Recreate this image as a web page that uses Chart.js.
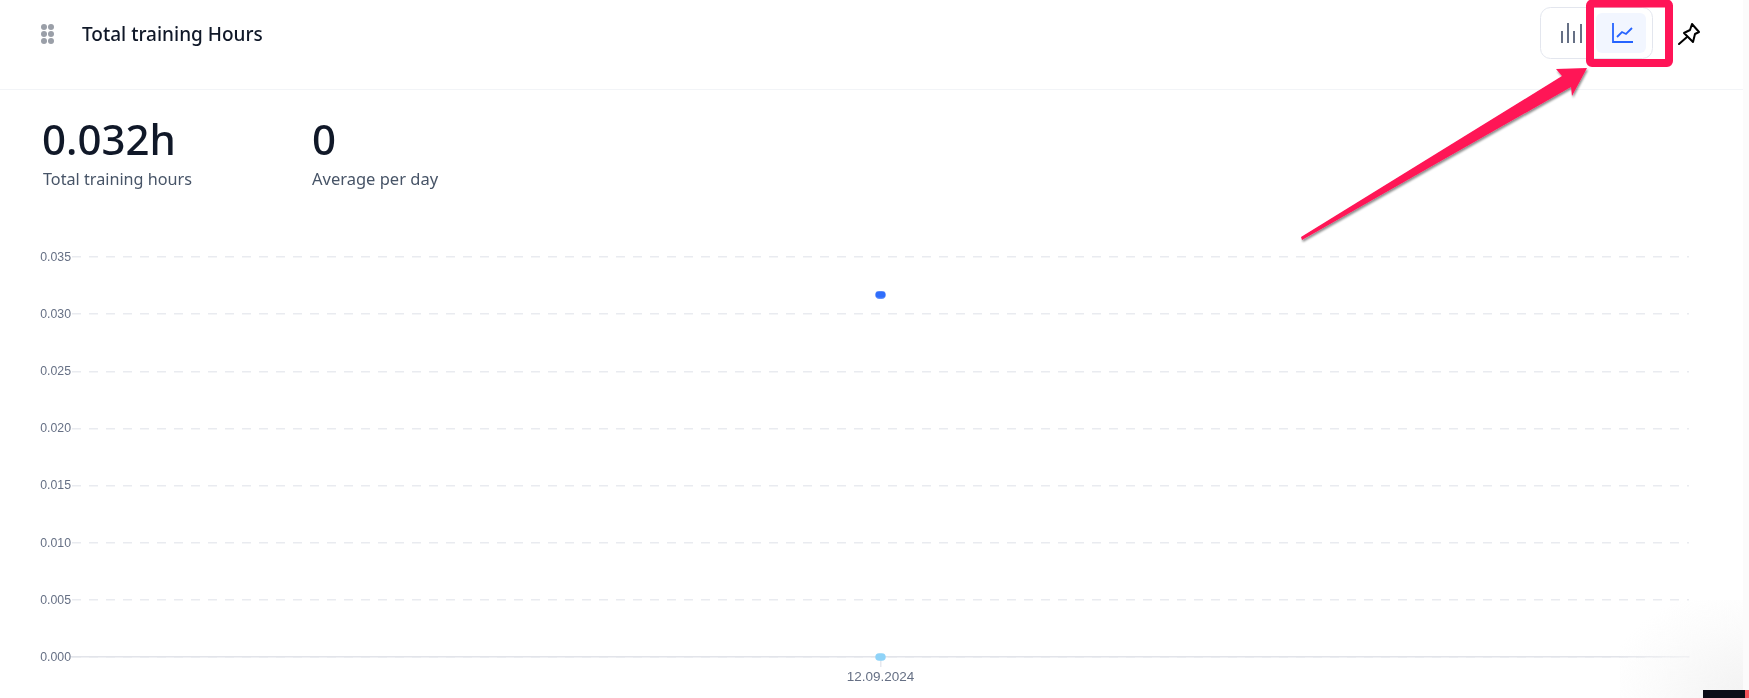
<!DOCTYPE html>
<html>
<head>
<meta charset="utf-8">
<title>Total training Hours</title>
<script src="https://cdn.jsdelivr.net/npm/chart.js@4"></script>
<style>
  html, body { margin: 0; padding: 0; background: #fff; }
  body { width: 1749px; height: 698px; position: relative; overflow: hidden; font-family: "Noto Sans", sans-serif; }
  #chart { position: absolute; left: 0; top: 0; }
  .text { position: absolute; white-space: nowrap; line-height: 1; }
  .title { left: 82px; top: 25px; font-size: 19px; font-weight: 500; color: #101828; }
  .kpi { top: 118px; font-size: 42px; font-weight: 500; color: #101828; }
  .kpi-label { top: 171px; font-size: 16.2px; color: #475467; }
  .divider { position: absolute; left: 0; top: 89px; width: 1743px; height: 1px; background: #f2f4f7; }
  .strip { position: absolute; left: 1743px; top: 0; width: 6px; height: 698px; background: #fbfbfb; }
  .fade { position: absolute; left: 1620px; top: 600px; width: 129px; height: 98px;
          background: radial-gradient(ellipse at 100% 100%, #f2f2f2 0%, rgba(248,248,248,0.6) 50%, rgba(255,255,255,0) 80%); }
  .corner { position: absolute; left: 1703px; top: 690px; width: 42px; height: 8px; background: #0b0d17; }
  .corner-red { position: absolute; left: 1745px; top: 690px; width: 4px; height: 8px; background: #f4525a; }
  svg.overlay { position: absolute; left: 0; top: 0; }
</style>
</head>
<body>
<canvas id="chart" width="1749" height="698"></canvas>

<div class="fade"></div>
<div class="strip"></div>
<div class="corner"></div>
<div class="corner-red"></div>
<div class="divider"></div>

<div class="text title">Total training Hours</div>
<div class="text kpi" style="left:42px">0.032h</div>
<div class="text kpi-label" style="left:43px">Total training hours</div>
<div class="text kpi" style="left:312px">0</div>
<div class="text kpi-label" style="left:312px;font-size:16.5px">Average per day</div>

<svg class="overlay" width="1749" height="698" xmlns="http://www.w3.org/2000/svg">
  <defs>
    <filter id="shadow" x="-10%" y="-10%" width="120%" height="120%">
      <feDropShadow dx="1" dy="2" stdDeviation="1.2" flood-color="#000" flood-opacity="0.45"/>
    </filter>
  </defs>
  <!-- drag handle -->
  <g fill="#9a9fa8">
    <circle cx="44" cy="27" r="3"/><circle cx="51" cy="27" r="3"/>
    <circle cx="44" cy="34" r="3"/><circle cx="51" cy="34" r="3"/>
    <circle cx="44" cy="41" r="3"/><circle cx="51" cy="41" r="3"/>
  </g>
  <!-- chart type toggle -->
  <rect x="1540.5" y="7.5" width="112" height="51" rx="10" fill="#fff" stroke="#e3e6ee"/>
  <rect x="1596" y="13" width="50" height="40" rx="6" fill="#f2f6ff"/>
  <g stroke="#667085" stroke-width="2">
    <line x1="1562" y1="31" x2="1562" y2="43"/>
    <line x1="1568" y1="23" x2="1568" y2="43"/>
    <line x1="1574" y1="31" x2="1574" y2="43"/>
    <line x1="1581" y1="24" x2="1581" y2="43"/>
  </g>
  <g fill="none" stroke="#2563ff" stroke-width="1.8">
    <path d="M1613 23 V42 H1633"/>
    <path d="M1617 37 L1622 32 L1626 34 L1632 28"/>
  </g>
  <!-- pin -->
  <g fill="none" stroke="#000" stroke-width="2" stroke-linejoin="round" stroke-linecap="round">
    <path d="M1692 24 L1699 32 L1695 34 L1693 42 L1684 33 L1690 30 Z"/>
    <path d="M1687 37 L1679 44"/>
  </g>
  <!-- annotation -->
  <g filter="url(#shadow)">
    <path fill="#ff1457" d="M1301 237 L1562 76 L1556 69 L1587 68 L1572 96 L1571 87 L1302 240 Z"/>
  </g>
  <rect x="1590" y="3.5" width="79" height="59.5" rx="2" fill="none" stroke="#ff1457" stroke-width="8" stroke-linejoin="round"/>
</svg>

<script>
const categories = ['12.09.2024'];
const totalHours = [0.0317];
const averageHours = [0];
const yTicks = { min: 0, max: 0.035, step: 0.005 };

// the source picture was stretched slightly, so its dots are wider than tall
function ovalPoint(color) {
    const c = document.createElement('canvas');
    c.width = 11;
    c.height = 8;
    const g = c.getContext('2d');
    g.fillStyle = color;
    g.beginPath();
    g.roundRect(0.3, 0.2, 10.4, 7.6, 3.8);
    g.fill();
    return c;
}

new Chart(document.getElementById('chart'), {
    type: 'line',
    data: {
        labels: categories,
        datasets: [
            { label: 'Total', data: totalHours, pointStyle: ovalPoint('#2f6dfb'), borderColor: '#2f6dfb', showLine: false, clip: false },
            { label: 'Average', data: averageHours, pointStyle: ovalPoint('#8fd3f8'), borderColor: '#8fd3f8', showLine: false, clip: false },
        ],
    },
    options: {
        responsive: false,
        animation: false,
        layout: { padding: { left: 0, right: 60, top: 257, bottom: 0 } },
        plugins: { legend: { display: false }, tooltip: { enabled: false } },
        scales: {
            x: {
                offset: true,
                afterFit: (s) => { s.height = 41; },
                grid: { offset: false, drawOnChartArea: false, tickLength: 10, color: '#e6e8ee', lineWidth: 1.5 },
                border: { display: true, color: '#e2e4ea', width: 1.5 },
                ticks: { color: '#667085', font: { family: 'Liberation Sans', size: 13.5 }, padding: 2, maxRotation: 0 },
            },
            y: {
                min: yTicks.min,
                max: yTicks.max,
                afterFit: (s) => { s.width = 72; },
                grid: { color: '#e9ebf0', lineWidth: 1.5, drawTicks: false },
                border: { display: false, dash: [9, 8] },
                ticks: {
                    stepSize: yTicks.step,
                    padding: 1,
                    labelOffset: 0.5,
                    color: '#667085',
                    font: { family: 'Liberation Sans', size: 12.3 },
                    callback: (v) => v.toFixed(3),
                },
            },
        },
    },
});
</script>
</body>
</html>
